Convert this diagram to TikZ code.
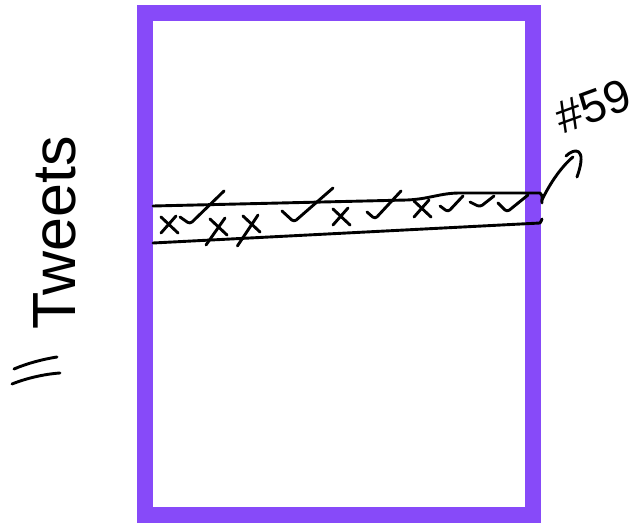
\documentclass[tikz,border=0pt]{standalone}
\usepackage{fontspec}
\setmainfont{Liberation Sans}
\usetikzlibrary{calc}
\definecolor{framepurple}{HTML}{874AF9}

\begin{document}
\begin{tikzpicture}[x=1pt,y=-1pt,
  ink/.style={line width=2.9pt,line cap=round,line join=round},
  framebox/.style={draw=framepurple,line width=16pt,minimum width=388pt,
    minimum height=502pt,inner sep=0pt,outer sep=0pt}]
  \useasboundingbox (0,0) rectangle (642,524);

  \node[framebox] (frame) at (339,264) {};

  % side label
  \node[rotate=90,inner sep=0pt,font=\fontsize{61}{61}\selectfont] (tweets) at (55,233) {Tweets};
  \draw[ink] (14,369) .. controls (28,363) and (44,359) .. (57,357);
  \draw[ink] (12,384) .. controls (27,378) and (45,374) .. (60,373);

  % the strip
  \coordinate (topleft) at (153,206);
  \coordinate (topright) at (540,193);
  \coordinate (botleft) at (153,243);
  \coordinate (botright) at (540,223);
  \draw[ink] (topleft) -- (407,200) .. controls (430,199) and (440,193) .. (460,193)
     -- (topright) .. controls (544,196) and (541,200) .. (542,203);
  \draw[ink] (botleft) -- (botright) .. controls (541,221) and (542,220) .. (542,219);

  % crosses
  \foreach \x/\y/\s in {169/225/0, 218/227/10, 251/224/14, 341/217/0, 422/209/0}
    \draw[ink] (\x-8,\y-8) -- (\x+9,\y+8)
               (\x+7,\y-9) -- (\x-8-\s*0.4,\y+8+\s);

  % ticks
  \foreach \a/\b/\c/\d/\e/\f in {180/217/190/224/224/191, 282/211/294/222/333/188,
      367/212/375/219/401/191, 440/206/448/212/463/196,
      470/202/480/207/494/196, 498/203/507/212/528/195}
    \draw[ink,rounded corners=3pt] (\a,\b) -- (\c,\d) -- (\e,\f);

  % pointer to the label
  \node[rotate=20,inner sep=0pt,font=\fontsize{46}{46}\selectfont] (num) at (593,106) {\#59};
  \coordinate (tip) at (573,157);
  \draw[ink] (542,200) .. controls (550,183) and (562,166) .. (tip);
  \draw[ink] (566,156) .. controls (574,148) and (588,146) .. (577,177);
\end{tikzpicture}
\end{document}
